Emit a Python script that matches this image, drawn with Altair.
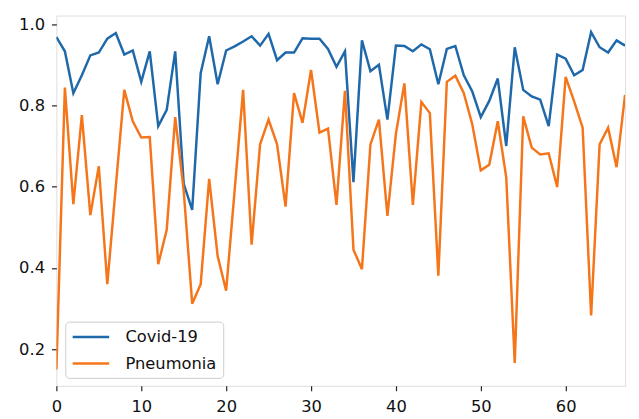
import altair as alt
import pandas as pd

x_vals = list(range(68))

covid = [0.968, 0.933, 0.830, 0.874, 0.923, 0.930, 0.964, 0.978, 0.925, 0.935,
         0.858, 0.933, 0.749, 0.789, 0.933, 0.607, 0.543, 0.879, 0.970, 0.852,
         0.935, 0.945, 0.957, 0.970, 0.947, 0.976, 0.911, 0.930, 0.930, 0.965,
         0.964, 0.964, 0.939, 0.895, 0.933, 0.611, 0.960, 0.884, 0.900, 0.765,
         0.947, 0.946, 0.933, 0.950, 0.938, 0.852, 0.939, 0.946, 0.874, 0.834,
         0.771, 0.811, 0.866, 0.700, 0.943, 0.838, 0.822, 0.814, 0.749, 0.925,
         0.915, 0.874, 0.887, 0.980, 0.943, 0.930, 0.960, 0.947]

pneumonia = [0.150, 0.844, 0.557, 0.776, 0.530, 0.650, 0.360, 0.600, 0.838, 0.761,
             0.721, 0.722, 0.409, 0.494, 0.771, 0.590, 0.312, 0.360, 0.619, 0.429,
             0.344, 0.590, 0.838, 0.457, 0.704, 0.765, 0.704, 0.551, 0.830, 0.757,
             0.887, 0.733, 0.743, 0.555, 0.836, 0.445, 0.397, 0.704, 0.765, 0.528,
             0.730, 0.854, 0.555, 0.808, 0.781, 0.381, 0.858, 0.873, 0.830, 0.753,
             0.640, 0.654, 0.761, 0.623, 0.166, 0.773, 0.696, 0.679, 0.682, 0.599,
             0.870, 0.810, 0.745, 0.283, 0.704, 0.745, 0.648, 0.826]

series_names = ["Covid-19", "Pneumonia"]
series_colors = ["#1f68aa", "#f5761a"]
x_ticks = [0, 10, 20, 30, 40, 50, 60]
y_ticks = [0.2, 0.4, 0.6, 0.8, 1.0]

df = pd.concat([
    pd.DataFrame({"x": x_vals, "value": covid, "series": series_names[0], "order": 0}),
    pd.DataFrame({"x": x_vals, "value": pneumonia, "series": series_names[1], "order": 1}),
])

font = "DejaVu Sans"

chart = alt.Chart(df).mark_line(strokeWidth=2.5, clip=True).encode(
    x=alt.X("x:Q",
            scale=alt.Scale(domain=[0, 67], nice=False, zero=False),
            axis=alt.Axis(values=x_ticks, title=None, grid=False, domain=False,
                          tickSize=5, tickWidth=1.2, tickColor="#222",
                          labelPadding=8, labelFontSize=16.5, labelFont=font,
                          labelColor="#111", labelFlush=False)),
    y=alt.Y("value:Q",
            scale=alt.Scale(domain=[0.11, 1.021], nice=False, zero=False),
            axis=alt.Axis(values=y_ticks, format=".1f", title=None, grid=False,
                          domain=False, tickSize=5, tickWidth=1.2, tickColor="#222",
                          labelPadding=7, labelFontSize=16.5, labelFont=font,
                          labelColor="#111")),
    color=alt.Color("series:N",
                    scale=alt.Scale(domain=series_names, range=series_colors),
                    legend=alt.Legend(title=None, orient="none", legendX=9, legendY=310,
                                      symbolType="M-1,0H3.625", symbolSize=256,
                                      symbolStrokeWidth=2.5, labelFontSize=16.5,
                                      labelFont=font, labelColor="#111",
                                      labelOffset=36, rowPadding=9,
                                      padding=6, strokeColor="#cccccc",
                                      fillColor="white", cornerRadius=4)),
    order="order:Q",
).properties(
    width=576,
    height=375,
    autosize=alt.AutoSizeParams(type="none"),
    padding={"left": 49, "top": 5, "right": 6, "bottom": 31},
).configure_view(
    stroke="#222", strokeWidth=1.5
).configure(background="white")

chart.save("out.html", embed_options={"renderer": "svg", "actions": False})
